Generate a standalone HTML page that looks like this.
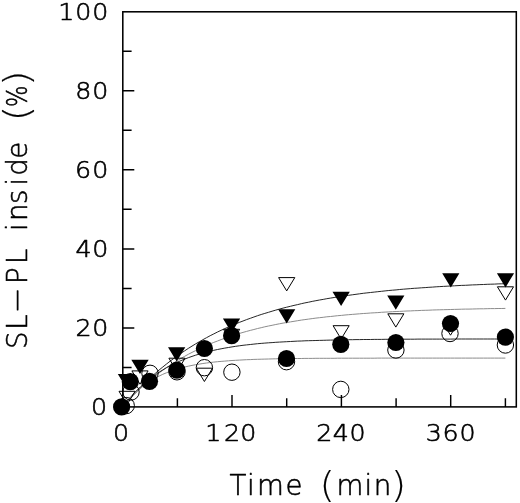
<!DOCTYPE html>
<html lang="en"><head><meta charset="utf-8"><title>SL-PL inside vs time</title>
<style>html,body{margin:0;padding:0;background:#fff}body{width:520px;height:503px;overflow:hidden}svg{display:block}text{font-family:"DejaVu Sans Light","DejaVu Sans","Liberation Sans",sans-serif;font-weight:200;fill:#000;stroke:#000;stroke-linejoin:round}</style></head><body>
<svg width="520" height="503" viewBox="0 0 520 503">
<rect width="520" height="503" fill="#fff"/>
<path d="M122.7 406.9 L126.3 402.6 L130.0 398.5 L133.6 394.5 L137.3 390.6 L140.9 386.9 L144.6 383.3 L148.2 379.8 L151.9 376.4 L155.5 373.2 L159.1 370.0 L162.8 367.0 L166.4 364.1 L170.1 361.2 L173.7 358.5 L177.4 355.9 L181.0 353.3 L184.7 350.8 L188.3 348.4 L192.0 346.1 L195.6 343.9 L199.2 341.8 L202.9 339.7 L206.5 337.7 L210.2 335.7 L213.8 333.9 L217.5 332.0 L221.1 330.3 L224.8 328.6 L228.4 327.0 L232.0 325.4 L235.7 323.9 L239.3 322.4 L243.0 321.0 L246.6 319.6 L250.3 318.3 L253.9 317.0 L257.6 315.7 L261.2 314.5 L264.8 313.4 L268.5 312.3 L272.1 311.2 L275.8 310.1 L279.4 309.1 L283.1 308.1 L286.7 307.2 L290.4 306.3 L294.0 305.4 L297.7 304.6 L301.3 303.7 L304.9 302.9 L308.6 302.2 L312.2 301.4 L315.9 300.7 L319.5 300.0 L323.2 299.4 L326.8 298.7 L330.5 298.1 L334.1 297.5 L337.7 296.9 L341.4 296.3 L345.0 295.8 L348.7 295.3 L352.3 294.8 L356.0 294.3 L359.6 293.8 L363.3 293.3 L366.9 292.9 L370.5 292.5 L374.2 292.1 L377.8 291.7 L381.5 291.3 L385.1 290.9 L388.8 290.5 L392.4 290.2 L396.1 289.9 L399.7 289.5 L403.3 289.2 L407.0 288.9 L410.6 288.6 L414.3 288.3 L417.9 288.1 L421.6 287.8 L425.2 287.6 L428.9 287.3 L432.5 287.1 L436.2 286.8 L439.8 286.6 L443.4 286.4 L447.1 286.2 L450.7 286.0 L454.4 285.8 L458.0 285.6 L461.7 285.4 L465.3 285.3 L469.0 285.1 L472.6 284.9 L476.2 284.8 L479.9 284.6 L483.5 284.5 L487.2 284.3 L490.8 284.2 L494.5 284.1 L498.1 283.9 L501.8 283.8 L505.4 283.7" fill="none" stroke="#1a1a1a" stroke-width="0.95"/>
<path d="M122.7 406.9 L126.3 402.8 L130.0 398.9 L133.6 395.2 L137.3 391.6 L140.9 388.2 L144.6 384.9 L148.2 381.7 L151.9 378.7 L155.5 375.7 L159.1 372.9 L162.8 370.3 L166.4 367.7 L170.1 365.2 L173.7 362.9 L177.4 360.6 L181.0 358.4 L184.7 356.3 L188.3 354.3 L192.0 352.4 L195.6 350.6 L199.2 348.8 L202.9 347.1 L206.5 345.5 L210.2 343.9 L213.8 342.4 L217.5 341.0 L221.1 339.6 L224.8 338.3 L228.4 337.0 L232.0 335.8 L235.7 334.6 L239.3 333.5 L243.0 332.4 L246.6 331.4 L250.3 330.4 L253.9 329.5 L257.6 328.5 L261.2 327.7 L264.8 326.8 L268.5 326.0 L272.1 325.3 L275.8 324.5 L279.4 323.8 L283.1 323.1 L286.7 322.5 L290.4 321.9 L294.0 321.3 L297.7 320.7 L301.3 320.1 L304.9 319.6 L308.6 319.1 L312.2 318.6 L315.9 318.1 L319.5 317.7 L323.2 317.3 L326.8 316.8 L330.5 316.5 L334.1 316.1 L337.7 315.7 L341.4 315.4 L345.0 315.0 L348.7 314.7 L352.3 314.4 L356.0 314.1 L359.6 313.8 L363.3 313.5 L366.9 313.3 L370.5 313.0 L374.2 312.8 L377.8 312.6 L381.5 312.3 L385.1 312.1 L388.8 311.9 L392.4 311.7 L396.1 311.5 L399.7 311.4 L403.3 311.2 L407.0 311.0 L410.6 310.9 L414.3 310.7 L417.9 310.6 L421.6 310.4 L425.2 310.3 L428.9 310.2 L432.5 310.0 L436.2 309.9 L439.8 309.8 L443.4 309.7 L447.1 309.6 L450.7 309.5 L454.4 309.4 L458.0 309.3 L461.7 309.2 L465.3 309.1 L469.0 309.1 L472.6 309.0 L476.2 308.9 L479.9 308.8 L483.5 308.8 L487.2 308.7 L490.8 308.6 L494.5 308.6 L498.1 308.5 L501.8 308.5 L505.4 308.4" fill="none" stroke="#8c8c8c" stroke-width="1.0"/>
<path d="M122.7 406.9 L126.3 402.2 L130.0 397.8 L133.6 393.8 L137.3 390.0 L140.9 386.4 L144.6 383.2 L148.2 380.1 L151.9 377.3 L155.5 374.6 L159.1 372.2 L162.8 369.9 L166.4 367.7 L170.1 365.7 L173.7 363.9 L177.4 362.2 L181.0 360.6 L184.7 359.1 L188.3 357.7 L192.0 356.4 L195.6 355.2 L199.2 354.1 L202.9 353.0 L206.5 352.0 L210.2 351.1 L213.8 350.3 L217.5 349.5 L221.1 348.8 L224.8 348.1 L228.4 347.5 L232.0 346.9 L235.7 346.3 L239.3 345.8 L243.0 345.3 L246.6 344.9 L250.3 344.5 L253.9 344.1 L257.6 343.7 L261.2 343.4 L264.8 343.1 L268.5 342.8 L272.1 342.6 L275.8 342.3 L279.4 342.1 L283.1 341.9 L286.7 341.7 L290.4 341.5 L294.0 341.3 L297.7 341.1 L301.3 341.0 L304.9 340.8 L308.6 340.7 L312.2 340.6 L315.9 340.5 L319.5 340.4 L323.2 340.3 L326.8 340.2 L330.5 340.1 L334.1 340.0 L337.7 339.9 L341.4 339.9 L345.0 339.8 L348.7 339.7 L352.3 339.7 L356.0 339.6 L359.6 339.6 L363.3 339.5 L366.9 339.5 L370.5 339.5 L374.2 339.4 L377.8 339.4 L381.5 339.4 L385.1 339.3 L388.8 339.3 L392.4 339.3 L396.1 339.3 L399.7 339.2 L403.3 339.2 L407.0 339.2 L410.6 339.2 L414.3 339.2 L417.9 339.1 L421.6 339.1 L425.2 339.1 L428.9 339.1 L432.5 339.1 L436.2 339.1 L439.8 339.1 L443.4 339.1 L447.1 339.1 L450.7 339.1 L454.4 339.0 L458.0 339.0 L461.7 339.0 L465.3 339.0 L469.0 339.0 L472.6 339.0 L476.2 339.0 L479.9 339.0 L483.5 339.0 L487.2 339.0 L490.8 339.0 L494.5 339.0 L498.1 339.0 L501.8 339.0 L505.4 339.0" fill="none" stroke="#1a1a1a" stroke-width="0.95"/>
<path d="M122.7 406.9 L126.3 402.3 L130.0 398.1 L133.6 394.3 L137.3 390.8 L140.9 387.7 L144.6 384.9 L148.2 382.3 L151.9 380.0 L155.5 377.9 L159.1 376.1 L162.8 374.3 L166.4 372.8 L170.1 371.4 L173.7 370.1 L177.4 369.0 L181.0 368.0 L184.7 367.0 L188.3 366.2 L192.0 365.4 L195.6 364.7 L199.2 364.1 L202.9 363.5 L206.5 363.0 L210.2 362.5 L213.8 362.1 L217.5 361.7 L221.1 361.4 L224.8 361.1 L228.4 360.8 L232.0 360.5 L235.7 360.3 L239.3 360.1 L243.0 359.9 L246.6 359.7 L250.3 359.6 L253.9 359.4 L257.6 359.3 L261.2 359.2 L264.8 359.1 L268.5 359.0 L272.1 358.9 L275.8 358.8 L279.4 358.8 L283.1 358.7 L286.7 358.6 L290.4 358.6 L294.0 358.5 L297.7 358.5 L301.3 358.5 L304.9 358.4 L308.6 358.4 L312.2 358.4 L315.9 358.3 L319.5 358.3 L323.2 358.3 L326.8 358.3 L330.5 358.3 L334.1 358.3 L337.7 358.2 L341.4 358.2 L345.0 358.2 L348.7 358.2 L352.3 358.2 L356.0 358.2 L359.6 358.2 L363.3 358.2 L366.9 358.2 L370.5 358.2 L374.2 358.2 L377.8 358.1 L381.5 358.1 L385.1 358.1 L388.8 358.1 L392.4 358.1 L396.1 358.1 L399.7 358.1 L403.3 358.1 L407.0 358.1 L410.6 358.1 L414.3 358.1 L417.9 358.1 L421.6 358.1 L425.2 358.1 L428.9 358.1 L432.5 358.1 L436.2 358.1 L439.8 358.1 L443.4 358.1 L447.1 358.1 L450.7 358.1 L454.4 358.1 L458.0 358.1 L461.7 358.1 L465.3 358.1 L469.0 358.1 L472.6 358.1 L476.2 358.1 L479.9 358.1 L483.5 358.1 L487.2 358.1 L490.8 358.1 L494.5 358.1 L498.1 358.1 L501.8 358.1 L505.4 358.1" fill="none" stroke="#8c8c8c" stroke-width="1.0"/>
<rect x="122.8" y="11.8" width="393.5" height="395.1" fill="none" stroke="#000" stroke-width="1.55"/>
<path d="M122.8 367.4h8.8M122.8 327.9h11.5M122.8 288.4h8.8M122.8 248.9h11.5M122.8 209.3h8.8M122.8 169.8h11.5M122.8 130.3h8.8M122.8 90.8h11.5M122.8 51.3h8.8M177.4 406.9v-8.6M232.0 406.9v-12M286.7 406.9v-8.6M341.4 406.9v-12M396.1 406.9v-8.6M450.7 406.9v-12M505.4 406.9v-8.6" fill="none" stroke="#000" stroke-width="1.45"/>
<g fill="none" stroke="#000" stroke-width="1.0">
<circle cx="126.2" cy="405.6" r="8.2"/>
<circle cx="131" cy="392" r="8.2"/>
<circle cx="150" cy="373.3" r="8.2"/>
<circle cx="177" cy="371.8" r="8.2"/>
<circle cx="204.4" cy="367.7" r="8.2"/>
<circle cx="231.9" cy="372.2" r="8.2"/>
<circle cx="286.5" cy="361.7" r="8.2"/>
<circle cx="340.8" cy="389.4" r="8.2"/>
<circle cx="395.9" cy="350" r="8.2"/>
<circle cx="450" cy="333.5" r="8.2"/>
<circle cx="505.4" cy="345" r="8.2"/>
<path d="M119.0 391.3H135.1L127.0 404.6ZM131.9 370.9H148.1L140.0 384.2ZM168.9 358.2H185.1L177.0 371.5ZM196.3 368.2H212.5L204.4 381.5ZM223.5 329.3H239.7L231.6 342.6ZM278.6 277.6H294.8L286.7 290.9ZM333.1 325.7H349.2L341.1 339.0ZM387.8 313.8H403.9L395.8 327.1ZM442.4 321.9H458.6L450.5 335.2ZM497.4 286.8H513.5L505.5 300.1Z" stroke-linejoin="miter"/>
</g>
<g fill="#000" stroke="none">
<circle cx="121.6" cy="406.9" r="8.6"/>
<circle cx="130.3" cy="381.7" r="8.6"/>
<circle cx="149.5" cy="381.3" r="8.6"/>
<circle cx="176.9" cy="370.1" r="8.6"/>
<circle cx="204.4" cy="348.5" r="8.6"/>
<circle cx="231.6" cy="335.7" r="8.6"/>
<circle cx="286.5" cy="358.5" r="8.6"/>
<circle cx="340.8" cy="344.3" r="8.6"/>
<circle cx="395.9" cy="342.5" r="8.6"/>
<circle cx="450.5" cy="323.5" r="8.6"/>
<circle cx="505.4" cy="337.1" r="8.6"/>
<path d="M117.8 374.0H135.2L126.5 388.3ZM131.3 359.7H148.7L140.0 374.0ZM168.0 347.3H185.3L176.7 361.6ZM222.9 318.5H240.2L231.6 332.8ZM278.1 309.2H295.3L286.7 323.5ZM332.5 291.8H349.8L341.1 306.1ZM387.2 295.4H404.4L395.8 309.7ZM442.2 273.2H459.4L450.8 287.5ZM496.9 273.2H514.1L505.5 287.5Z"/>
</g>
<text transform="scale(1.1 1)" x="82.63" y="414.8" font-size="23.0" stroke-width="0.6">0</text>
<text transform="scale(1.1 1)" x="68.67 83.81" y="335.8" font-size="23.0" stroke-width="0.6">20</text>
<text transform="scale(1.1 1)" x="68.68 83.81" y="256.8" font-size="23.0" stroke-width="0.6">40</text>
<text transform="scale(1.1 1)" x="68.20 83.81" y="177.7" font-size="23.0" stroke-width="0.6">60</text>
<text transform="scale(1.1 1)" x="68.33 83.81" y="98.7" font-size="23.0" stroke-width="0.6">80</text>
<text transform="scale(1.1 1)" x="52.94 68.36 83.81" y="19.7" font-size="23.0" stroke-width="0.6">100</text>
<text transform="scale(1.1 1)" x="102.72" y="440.6" font-size="23.0" stroke-width="0.6">0</text>
<text transform="scale(1.1 1)" x="186.67 203.58 218.36" y="440.6" font-size="23.0" stroke-width="0.6">120</text>
<text transform="scale(1.1 1)" x="287.58 302.41 317.81" y="440.6" font-size="23.0" stroke-width="0.6">240</text>
<text transform="scale(1.1 1)" x="387.01 402.20 417.72" y="440.6" font-size="23.0" stroke-width="0.6">360</text>
<text font-size="27.6" stroke-width="0.55"><tspan x="229.47 247.08 257.06 285.61 307.61" y="495.20">Time </tspan><tspan x="319.42" y="497.10" font-size="35.5" stroke-width="0.15" textLength="15.51" lengthAdjust="spacingAndGlyphs">(</tspan><tspan x="336.61 364.38 373.82" y="495.20">min</tspan><tspan x="390.72" y="497.10" font-size="35.5" stroke-width="0.15" textLength="15.51" lengthAdjust="spacingAndGlyphs">)</tspan></text>
<text transform="translate(26.9 347.6) rotate(-90)" font-size="27.6" stroke-width="0.55"><tspan x="-1.31 17.81" y="0.00">SL</tspan><tspan x="34.45" y="-1.90" textLength="25.89" lengthAdjust="spacingAndGlyphs">-</tspan><tspan x="63.49 83.56 103.61 116.58 126.67 143.61 162.18 171.82 188.81 210.61" y="0.00">PL inside </tspan><tspan x="226.27" y="1.90" font-size="35.5" stroke-width="0.15" textLength="15.51" lengthAdjust="spacingAndGlyphs">(</tspan><tspan x="240.71" y="0.00" textLength="21.50" lengthAdjust="spacingAndGlyphs">%</tspan><tspan x="261.67" y="1.90" font-size="35.5" stroke-width="0.15" textLength="15.51" lengthAdjust="spacingAndGlyphs">)</tspan></text>
</svg></body></html>
